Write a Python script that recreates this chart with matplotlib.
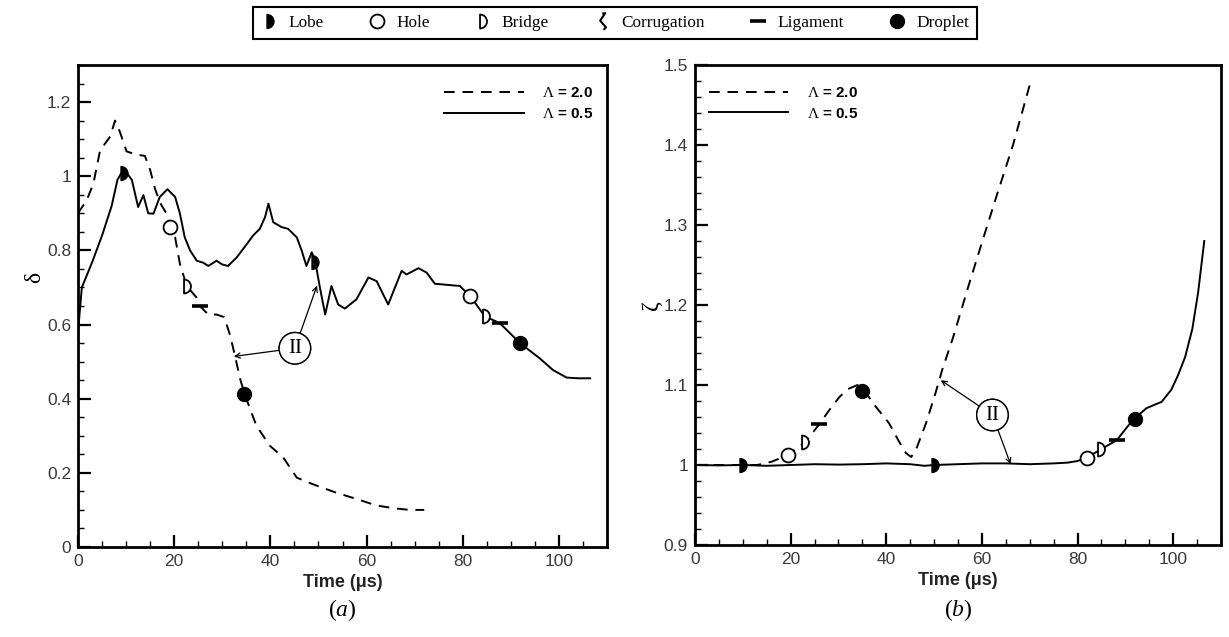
import numpy as np
import matplotlib
matplotlib.use("Agg")
import matplotlib.pyplot as plt
from matplotlib.path import Path
from matplotlib.lines import Line2D
from matplotlib.ticker import MultipleLocator, FuncFormatter

plt.rcParams['font.family'] = ['Liberation Sans', 'DejaVu Sans']
plt.rcParams['mathtext.fontset'] = 'custom'
plt.rcParams['mathtext.rm'] = 'Liberation Serif'
plt.rcParams['mathtext.it'] = 'Liberation Serif:italic'
plt.rcParams['mathtext.bf'] = 'Liberation Serif:bold'

# ---------------- data: panel (a) delta ----------------
t_a_05 = [0, 0.8, 3, 5, 7, 8.2, 9.5, 11.2, 12.5, 13.6, 14.6, 15.7, 17.0, 18.6, 20.2, 21.2,
          22.2, 23.3, 24.7, 26.0, 27.1, 28.8, 30.0, 31.2, 33.0, 35.1, 36.4, 37.8, 38.9, 39.6,
          40.6, 42.3, 43.7, 45.5, 46.5, 47.5, 48.6, 49.3, 50.3, 51.4, 52.7, 54.1, 55.5, 57.9,
          60.4, 62.1, 64.5, 67.3, 68.3, 70.8, 72.5, 74.2, 79.4, 81.6, 84.6, 87.7, 91.9, 96.0,
          98.8, 101.6, 104.0, 106.5]
d_a_05 = [0.58, 0.70, 0.77, 0.84, 0.92, 0.99, 1.02, 0.99, 0.917, 0.949, 0.90, 0.899, 0.944,
          0.965, 0.944, 0.899, 0.835, 0.80, 0.772, 0.767, 0.758, 0.772, 0.762, 0.758, 0.781,
          0.817, 0.84, 0.858, 0.89, 0.926, 0.876, 0.863, 0.858, 0.835, 0.80, 0.758, 0.795,
          0.772, 0.70, 0.627, 0.704, 0.654, 0.643, 0.668, 0.727, 0.717, 0.654, 0.745, 0.735,
          0.752, 0.74, 0.71, 0.704, 0.676, 0.622, 0.604, 0.55, 0.509, 0.477, 0.457, 0.455, 0.455]

t_a_20 = [0, 1.8, 3.2, 4.6, 6.7, 7.7, 8.7, 10.1, 12.2, 13.9, 15.0, 16.0, 17.0, 18.4, 19.1,
          20.2, 21.2, 22.6, 24.7, 25.4, 27.1, 28.8, 30.4, 31.6, 32.6, 33.7, 34.7, 37.1, 39.9,
          42.7, 45.5, 48.9, 53.8, 58.3, 62.0, 66.0, 69.0, 72.0]
d_a_20 = [0.90, 0.935, 0.98, 1.07, 1.107, 1.15, 1.12, 1.067, 1.058, 1.055, 1.017, 0.967, 0.93,
          0.899, 0.863, 0.835, 0.763, 0.704, 0.672, 0.649, 0.627, 0.627, 0.62, 0.572, 0.518,
          0.454, 0.41, 0.327, 0.273, 0.241, 0.187, 0.169, 0.146, 0.128, 0.112, 0.104, 0.10, 0.10]

# markers panel (a)
lobe_a_t, lobe_a_y = [9.6, 49.3], [1.01, 0.77]
hole_a_t, hole_a_y = [19.2, 81.5], [0.863, 0.677]
bridge_a_t, bridge_a_y = [22.6, 84.8], [0.705, 0.623]
lig_a_t, lig_a_y = [25.3, 87.7], [0.651, 0.604]
drop_a_t, drop_a_y = [34.6, 91.9], [0.412, 0.55]

# ---------------- data: panel (b) zeta ----------------
t_b_05 = [0, 5, 10, 15, 20, 25, 30, 35, 40, 45, 48, 50, 55, 60, 65, 70, 75, 78, 80, 81.9,
          85, 88.2, 91.5, 94.4, 97.6, 99.6, 101, 102.5, 104, 105.2, 106.5]
z_b_05 = [1.0, 0.9995, 1.0, 0.999, 1.0, 1.001, 1.0005, 1.001, 1.002, 1.001, 0.999, 1.0, 1.001,
          1.002, 1.002, 1.001, 1.002, 1.003, 1.005, 1.009, 1.02, 1.031, 1.056, 1.071, 1.079,
          1.094, 1.112, 1.135, 1.17, 1.215, 1.28]

t_b_20 = [0, 5, 10, 13, 16, 19.4, 23.1, 26, 28, 30.2, 32, 34, 34.9, 36, 37.8, 40.6, 42.7,
          44.1, 45.2, 46.2, 48.3, 50.3, 51.7, 54, 57, 60, 63, 66.5, 70]
z_b_20 = [1.0, 1.0, 1.0, 1.0, 1.004, 1.0125, 1.029, 1.051, 1.068, 1.085, 1.095, 1.10, 1.095,
          1.088, 1.073, 1.052, 1.029, 1.015, 1.01, 1.019, 1.052, 1.09, 1.119, 1.16, 1.22,
          1.278, 1.335, 1.40, 1.475]

lobe_b_t, lobe_b_y = [10.0, 50.2], [1.0, 1.0]
hole_b_t, hole_b_y = [19.4, 81.9], [1.0125, 1.009]
bridge_b_t, bridge_b_y = [23.1, 85.0], [1.029, 1.02]
lig_b_t, lig_b_y = [26.0, 88.2], [1.051, 1.031]
drop_b_t, drop_b_y = [34.9, 92.0], [1.092, 1.057]

legend_names = ["Lobe", "Hole", "Bridge", "Corrugation", "Ligament", "Droplet"]
series_names = [r"$\Lambda$ = 2.0", r"$\Lambda$ = 0.5"]

# ---------------- custom marker paths ----------------
_w = Path.wedge(-90, 90)
lobe_path = Path(_w.vertices - np.array([0.5, 0.0]), _w.codes)
corr_path = Path([(-0.15, 0.95), (0.2, 1.0), (-0.4, 0.1), (0.3, -0.7), (0.0, -1.0)],
                 [Path.MOVETO, Path.LINETO, Path.LINETO, Path.LINETO, Path.LINETO])

MS = 9

def mstyle(kind, s=1.0):
    if kind == "Lobe":
        return dict(marker=lobe_path, mfc='k', mec='k', ms=(MS + 1) * s, mew=1.0)
    if kind == "Hole":
        return dict(marker='o', mfc='white', mec='k', ms=(MS + 1) * s, mew=1.3)
    if kind == "Bridge":
        return dict(marker=lobe_path, mfc='white', mec='k', ms=(MS + 1) * s, mew=1.3)
    if kind == "Corrugation":
        return dict(marker=corr_path, mfc='none', mec='k', ms=(MS + 3) * s, mew=1.5)
    if kind == "Ligament":
        return dict(marker='_', mfc='k', mec='k', ms=(MS + 2) * s, mew=2.6)
    if kind == "Droplet":
        return dict(marker='o', mfc='k', mec='k', ms=(MS + 1) * s, mew=1.0)

fig = plt.figure(figsize=(12.29, 6.37), dpi=100)
ax1 = fig.add_axes([78 / 1229, 1 - 547 / 637, 529 / 1229, 482 / 637])
ax2 = fig.add_axes([695 / 1229, 1 - 545 / 637, 526 / 1229, 480 / 637])

DASH = (5.5, 4.0)
LW = 1.4

def style_axes(ax):
    for s in ax.spines.values():
        s.set_linewidth(2.0)
    ax.tick_params(which='major', direction='in', length=9, width=1.6, top=False, right=False,
                   labelsize=12.5, labelcolor='#3a3a3a', pad=5)
    ax.tick_params(which='minor', direction='in', length=4.5, width=1.0, top=False, right=False)
    ax.set_xlim(0, 110)
    ax.xaxis.set_minor_locator(MultipleLocator(5))
    ax.set_xticks([0, 20, 40, 60, 80, 100])
    ax.yaxis.set_major_formatter(FuncFormatter(lambda v, p: '%g' % round(v, 3)))
    ax.set_xlabel('Time (μs)', fontsize=13, fontweight='bold', color='#222222')
    ax.xaxis.set_label_coords(0.5, -0.057)

leg_kw = dict(frameon=False, handlelength=5.2, handletextpad=1.2, labelspacing=0.45,
              prop=dict(weight='bold', size=11))

# ---------- panel (a) ----------
la, = ax1.plot(t_a_20, d_a_20, color='k', lw=LW, dashes=DASH, label=series_names[0])
lb, = ax1.plot(t_a_05, d_a_05, color='k', lw=LW, label=series_names[1])
for kind, tt, yy in [("Lobe", lobe_a_t, lobe_a_y), ("Hole", hole_a_t, hole_a_y),
                     ("Bridge", bridge_a_t, bridge_a_y), ("Ligament", lig_a_t, lig_a_y),
                     ("Droplet", drop_a_t, drop_a_y)]:
    ax1.plot(tt, yy, ls='none', zorder=5, **mstyle(kind))
ax1.set_ylim(0, 1.3)
ax1.set_yticks([0, 0.2, 0.4, 0.6, 0.8, 1.0, 1.2])
ax1.yaxis.set_minor_locator(MultipleLocator(0.05))
style_axes(ax1)
ax1.set_ylabel('δ', fontsize=17, family='Liberation Serif')
ax1.yaxis.set_label_coords(-0.062, 0.56)
ax1.legend(handles=[la, lb], loc='upper right', bbox_to_anchor=(1.0, 0.985), **leg_kw)

# annotation II (a)
circ = dict(boxstyle='circle,pad=0.3', fc='white', ec='k', lw=1.0)
for xy in [(32.4, 0.514), (49.7, 0.705)]:
    ax1.annotate('II', xy=xy, xytext=(45.1, 0.536), ha='center', va='center', fontsize=15,
                 family='Liberation Serif', bbox=circ, zorder=6,
                 arrowprops=dict(arrowstyle='->', lw=0.9, color='k', shrinkA=0, shrinkB=0,
                                 mutation_scale=9))

# ---------- panel (b) ----------
lc, = ax2.plot(t_b_20, z_b_20, color='k', lw=LW, dashes=DASH, label=series_names[0])
ld, = ax2.plot(t_b_05, z_b_05, color='k', lw=LW, label=series_names[1])
for kind, tt, yy in [("Lobe", lobe_b_t, lobe_b_y), ("Hole", hole_b_t, hole_b_y),
                     ("Bridge", bridge_b_t, bridge_b_y), ("Ligament", lig_b_t, lig_b_y),
                     ("Droplet", drop_b_t, drop_b_y)]:
    ax2.plot(tt, yy, ls='none', zorder=5, **mstyle(kind))
ax2.set_ylim(0.9, 1.5)
ax2.set_yticks([0.9, 1.0, 1.1, 1.2, 1.3, 1.4, 1.5])
ax2.yaxis.set_minor_locator(MultipleLocator(0.02))
style_axes(ax2)
ax2.set_ylabel('ζ', fontsize=17, family='Liberation Serif')
ax2.yaxis.set_label_coords(-0.063, 0.5)
ax2.legend(handles=[lc, ld], loc='upper left', bbox_to_anchor=(0.0, 0.985), **leg_kw)

for xy in [(51.4, 1.106), (66.0, 1.001)]:
    ax2.annotate('II', xy=xy, xytext=(62.2, 1.0625), ha='center', va='center', fontsize=15,
                 family='Liberation Serif', bbox=circ, zorder=6,
                 arrowprops=dict(arrowstyle='->', lw=0.9, color='k', shrinkA=0, shrinkB=0,
                                 mutation_scale=9))

# panel captions
fig.text((78 + 529 / 2) / 1229, 1 - 610 / 637, r'$(a)$', ha='center', va='center', fontsize=17)
fig.text((695 + 526 / 2) / 1229, 1 - 610 / 637, r'$(b)$', ha='center', va='center', fontsize=17)

# top legend
handles = [Line2D([], [], ls='none', color='k', **mstyle(k)) for k in legend_names]
fleg = fig.legend(handles, legend_names, loc='center', bbox_to_anchor=(615 / 1229, 1 - 23 / 637),
                  ncol=6, frameon=True, fancybox=False, edgecolor='black', framealpha=1,
                  prop=dict(family='Liberation Serif', size=12.4), handlelength=1.0,
                  handletextpad=0.6, columnspacing=2.6, borderpad=0.45)
fleg.get_frame().set_linewidth(1.5)

fig.savefig('out.png', dpi=100)
